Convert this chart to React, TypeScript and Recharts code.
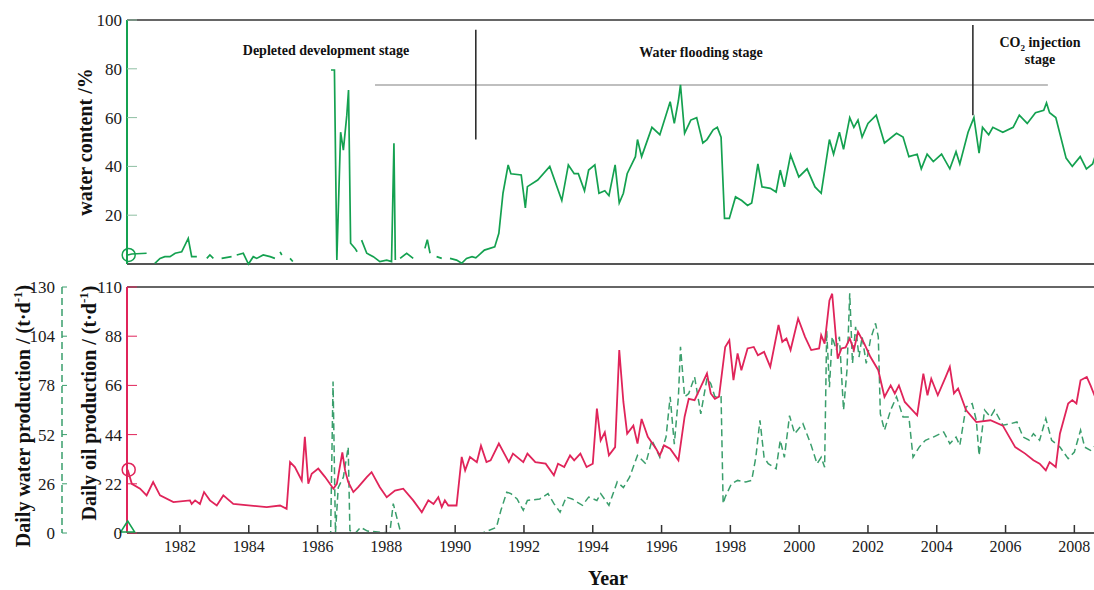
import React from "react";
import { LineChart, Line, XAxis, YAxis, ReferenceLine } from "recharts";

// x positions are decimal years
const X_MIN = 1980.46;
const X_MAX = 2008.6;
const yearTicks = [1982, 1984, 1986, 1988, 1990, 1992, 1994, 1996, 1998, 2000, 2002, 2004, 2006, 2008];
const waterCutTicks = [0, 20, 40, 60, 80, 100];
const oilTicks = [0, 22, 44, 66, 88, 110];
const waterProdTicks = [0, 26, 52, 78, 104, 130];

// water content /% (null = no record)
const waterCutYears = [
  1980.48, 1980.6, 1981.03, 1981.12, 1981.27, 1981.42, 1981.56, 1981.71, 1981.86, 1982.05, 1982.24, 1982.34,
  1982.49, 1982.62, 1982.78, 1982.87, 1982.97, 1983.08, 1983.21, 1983.5, 1983.58, 1983.65, 1983.84, 1983.99,
  1984.13, 1984.23, 1984.42, 1984.62, 1984.76, 1984.84, 1984.91, 1984.96, 1985.08, 1985.2, 1985.28, 1985.6,
  1986.39, 1986.49, 1986.56, 1986.67, 1986.75, 1986.85, 1986.9, 1986.96, 1987.09, 1987.15, 1987.22, 1987.28,
  1987.43, 1987.62, 1987.81, 1988.01, 1988.15, 1988.22, 1988.26, 1988.33, 1988.4, 1988.59, 1988.78, 1988.95,
  1989.12, 1989.19, 1989.27, 1989.36, 1989.46, 1989.61, 1989.72, 1989.85, 1990.04, 1990.19, 1990.33, 1990.49,
  1990.6, 1990.72, 1990.85, 1991.15, 1991.27, 1991.39, 1991.54, 1991.62, 1991.92, 1992.04, 1992.1, 1992.4,
  1992.75, 1993.1, 1993.29, 1993.46, 1993.58, 1993.76, 1993.88, 1994.06, 1994.18, 1994.35, 1994.47, 1994.65,
  1994.77, 1994.89, 1995.0, 1995.24, 1995.3, 1995.42, 1995.72, 1995.95, 1996.25, 1996.37, 1996.49, 1996.55,
  1996.67, 1996.85, 1997.02, 1997.2, 1997.32, 1997.5, 1997.62, 1997.73, 1997.83, 1997.97, 1998.15, 1998.33,
  1998.5, 1998.62, 1998.68, 1998.8, 1998.92, 1999.16, 1999.33, 1999.45, 1999.57, 1999.75, 1999.99, 2000.23,
  2000.46, 2000.64, 2000.76, 2000.88, 2001.0, 2001.17, 2001.29, 2001.47, 2001.59, 2001.71, 2001.83, 2002.0,
  2002.24, 2002.48, 2002.83, 2003.02, 2003.19, 2003.43, 2003.55, 2003.72, 2003.9, 2004.14, 2004.38, 2004.56,
  2004.67, 2004.91, 2005.08, 2005.23, 2005.33, 2005.51, 2005.63, 2005.92, 2006.22, 2006.4, 2006.63, 2006.87,
  2007.11, 2007.19, 2007.28, 2007.46, 2007.76, 2007.94, 2008.17, 2008.35, 2008.53, 2008.6,
];
const waterCutValues = [
  3.7, 4.1, 4.4, null, 0.3, 2.3, 3, 3, 4.4, 5, 10.5, 3,
  3, null, 2.3, 3.7, 2.3, null, 2.3, 3, null, 3.7, 4.4, 0,
  3, 2.3, 3.7, 3, 2.3, null, 5, 3.7, null, 2.3, 1, null,
  79.5, 79.5, 1.6, 54, 46.7, 61, 71.3, 8.5, 6.4, 5, null, 9.8,
  4.4, 3, 1, 1.6, 1, 49.5, 1.6, null, 2.3, 4.4, 2.3, null,
  6.4, 10, 4.4, null, 3, 2.3, null, 2.3, 1.6, 0.3, 2.3, 3,
  2.5, 4, 5.7, 7, 12.6, 29, 40.6, 37, 36.5, 23, 31.7, 34.4,
  40, 26, 40.6, 37, 37, 30, 38.5, 40.6, 29, 30, 28, 40.6,
  25, 29, 37, 44, 51, 44, 56, 53, 66.5, 57.6, 67, 73.4,
  53.6, 59, 60, 49.6, 51, 55, 56, 52, 18.7, 18.7, 27.5, 26,
  24, 25, 30, 41, 31.6, 31, 29.5, 38.5, 31.6, 44.7, 35.7, 39,
  31.6, 29, 40, 51, 45, 54, 47, 60, 56, 59, 52, 57.6,
  61, 49.6, 53.6, 52, 44, 45, 39, 45, 42, 45, 39, 46,
  41, 54, 60, 45.4, 56, 53, 56, 54, 56, 61, 57.6, 62,
  63, 66, 62, 60, 43.4, 40, 44, 39, 41, 44,
];

// daily oil production / (t·d-1)
const oilYears = [
  1980.48, 1980.6, 1980.84, 1981.03, 1981.22, 1981.42, 1981.81, 1982.29, 1982.34, 1982.44, 1982.58, 1982.7,
  1982.87, 1983.07, 1983.26, 1983.55, 1984.52, 1984.91, 1985.1, 1985.2, 1985.34, 1985.54, 1985.63, 1985.73,
  1985.83, 1986.02, 1986.22, 1986.46, 1986.56, 1986.72, 1986.8, 1986.89, 1987.04, 1987.18, 1987.43, 1987.57,
  1987.81, 1988.01, 1988.25, 1988.49, 1988.78, 1989.03, 1989.22, 1989.37, 1989.51, 1989.61, 1989.7, 1989.8,
  1990.04, 1990.19, 1990.29, 1990.43, 1990.63, 1990.75, 1990.91, 1991.03, 1991.27, 1991.56, 1991.68, 1991.98,
  1992.1, 1992.33, 1992.63, 1992.87, 1992.99, 1993.17, 1993.34, 1993.46, 1993.64, 1993.82, 1994.0, 1994.12,
  1994.23, 1994.35, 1994.47, 1994.65, 1994.77, 1994.89, 1995.0, 1995.18, 1995.3, 1995.42, 1995.6, 1995.84,
  1995.95, 1996.07, 1996.25, 1996.49, 1996.67, 1996.79, 1996.96, 1997.14, 1997.32, 1997.43, 1997.55, 1997.67,
  1997.85, 1997.97, 1998.09, 1998.21, 1998.32, 1998.5, 1998.68, 1998.8, 1998.98, 1999.16, 1999.4, 1999.51,
  1999.63, 1999.75, 1999.97, 2000.17, 2000.35, 2000.58, 2000.64, 2000.74, 2000.88, 2000.96, 2001.12, 2001.23,
  2001.35, 2001.47, 2001.59, 2001.71, 2001.89, 2002.07, 2002.3, 2002.48, 2002.66, 2002.78, 2002.9, 2003.07,
  2003.43, 2003.61, 2003.73, 2003.84, 2004.03, 2004.26, 2004.38, 2004.5, 2004.62, 2004.85, 2005.15, 2005.56,
  2005.92, 2006.28, 2006.57, 2006.81, 2006.99, 2007.17, 2007.28, 2007.46, 2007.58, 2007.82, 2007.94, 2008.06,
  2008.18, 2008.36, 2008.47, 2008.6,
];
const oilValues = [
  28.3, 22, 19.8, 16.8, 22.8, 16.8, 13.8, 14.6, 13, 14.6, 13, 18.3,
  14.6, 12.3, 16.8, 13, 11.6, 12.3, 10.8, 31.7, 29.5, 23.5, 43, 22,
  26.5, 28.8, 25, 19.8, 22, 36, 28, 22.8, 18.3, 20.5, 25, 27.2,
  20.5, 16, 19, 19.8, 14.6, 9.3, 14.6, 13, 16, 11.6, 14.6, 12.3,
  12.3, 34, 28, 34, 31.7, 39, 31.7, 32.5, 40, 31.7, 35.5, 31.7,
  35.5, 31.7, 31, 25.8, 31, 29.5, 34.7, 32.5, 35.5, 29.5, 31, 55.6,
  41.4, 45, 34.7, 38.4, 81.8, 58.6, 44.4, 48, 40, 51, 43, 37.7,
  34.7, 39.2, 37.7, 32.5, 52, 60, 59.4, 65.3, 71.3, 62.4, 60, 61,
  83.2, 86.2, 68.4, 80.3, 72.8, 82.5, 83.2, 79.5, 81, 74.3, 93, 85.5,
  87, 81.8, 95.9, 87.7, 81.8, 82.5, 88.5, 84.7, 104, 107, 78, 82.5,
  83, 87, 81.8, 90, 84.8, 78.8, 72.8, 60.8, 66, 62.4, 66, 58.6,
  52.6, 71.3, 61.6, 69, 61.6, 69.8, 74.3, 62.4, 64.6, 55, 49.6, 50.4,
  48, 38.4, 35.5, 32.5, 31, 28, 31.7, 29.5, 44.4, 57.9, 59.4, 57.9,
  68.3, 69.8, 66, 61,
];

// daily water production / (t·d-1)
const waterYears = [
  1980.48, 1986.38, 1986.45, 1986.52, 1986.6, 1986.75, 1986.89, 1986.94, 1987.1, 1987.25, 1987.45, 1988.1,
  1988.2, 1988.35, 1988.42, 1990.8, 1991.2, 1991.33, 1991.5, 1991.62, 1991.8, 1991.98, 1992.1, 1992.46,
  1992.7, 1992.87, 1993.05, 1993.23, 1993.4, 1993.7, 1993.88, 1994.12, 1994.23, 1994.47, 1994.71, 1994.89,
  1995.07, 1995.3, 1995.54, 1995.72, 1995.95, 1996.13, 1996.25, 1996.37, 1996.49, 1996.55, 1996.67, 1996.79,
  1996.96, 1997.14, 1997.32, 1997.43, 1997.55, 1997.73, 1997.79, 1997.85, 1998.03, 1998.21, 1998.45, 1998.62,
  1998.74, 1998.86, 1998.98, 1999.1, 1999.33, 1999.45, 1999.57, 1999.72, 1999.87, 2000.11, 2000.35, 2000.52,
  2000.64, 2000.74, 2000.8, 2000.88, 2000.96, 2001.08, 2001.17, 2001.29, 2001.39, 2001.47, 2001.55, 2001.64,
  2001.74, 2001.83, 2001.95, 2002.07, 2002.22, 2002.3, 2002.36, 2002.48, 2002.66, 2002.83, 2003.02, 2003.19,
  2003.31, 2003.49, 2003.67, 2003.9, 2004.2, 2004.38, 2004.56, 2004.67, 2004.85, 2005.03, 2005.15, 2005.23,
  2005.39, 2005.56, 2005.68, 2005.92, 2006.15, 2006.33, 2006.51, 2006.69, 2006.81, 2006.99, 2007.17, 2007.34,
  2007.58, 2007.82, 2008.0, 2008.18, 2008.3, 2008.47, 2008.6,
];
const waterValues = [
  0, 0, 80, 0, 24, 29.5, 45.4, 1.3, 0, 3, 1, 0,
  15.5, 4.9, 0, 0, 3, 12, 21.6, 20.8, 18, 12, 17.2, 18,
  20.8, 15.5, 11, 19, 18, 14.6, 19, 17.2, 20.8, 14.6, 27, 24,
  29.5, 41, 36.6, 49, 40, 50.7, 72, 47, 72, 98.4, 72, 73.7,
  82.5, 63, 81.7, 79, 72, 72, 15.5, 19, 26, 27.8, 27, 27.8,
  40, 59.6, 40, 36.6, 34, 49, 40, 62, 52.5, 57.8, 46.3, 36.6,
  40, 34.8, 107, 77, 103.7, 96.7, 103.7, 64.9, 86, 126.7, 89.6, 109,
  93, 103.7, 89.6, 102, 110.8, 103.7, 63, 54.3, 65, 72, 61.3, 61.3,
  40, 45.4, 49, 50.7, 53.4, 47.2, 50.7, 46.3, 66.6, 68.4, 59.6, 41,
  65, 61.3, 65, 57, 57.8, 58.7, 50.7, 49, 52.5, 49, 60.5, 49,
  45.4, 39.3, 42.8, 54.3, 45.4, 43.7, 46,
];

// stage annotations (years / water content %)
const stageDivider1 = { year: 1990.6, from: 51, to: 96 };
const stageDivider2 = { year: 2005.05, from: 61, to: 98 };
const stageBar = { value: 73.4, from: 1987.67, to: 2007.23 };

const GREEN = "#14a150";
const RED = "#e0245a";
const DASH_GREEN = "#3a9e6c";
const SERIF = "'Liberation Serif', 'DejaVu Serif', serif";

const zip = (xs: number[], vs: (number | null)[]) => xs.map((x, i) => ({ x, v: vs[i] }));
const waterCutData = zip(waterCutYears, waterCutValues);
const oilData = zip(oilYears, oilValues);
const waterData = zip(waterYears, waterValues);

const startCircle = (color: string) => (p: any) =>
  p.index === 0 ? (
    <circle key={`d${p.index}`} cx={p.cx + 1} cy={p.cy} r={6.5} fill="none" stroke={color} strokeWidth={1.5} />
  ) : (
    <g key={`d${p.index}`} />
  );

const startTriangle = (p: any) =>
  p.index === 0 ? (
    <path
      key={`d${p.index}`}
      d={`M${p.cx - 7},${p.cy - 1} L${p.cx + 7},${p.cy - 1} L${p.cx},${p.cy - 12} Z`}
      fill="none"
      stroke={GREEN}
      strokeWidth={1.5}
    />
  ) : (
    <g key={`d${p.index}`} />
  );

const tickFont = { fontFamily: "Liberation Serif", fontSize: 17, fill: "#1a1a1a" };

function VTitle({ text, x, y, size = 20 }: { text: React.ReactNode; x: number; y: number; size?: number }) {
  return (
    <div
      style={{
        position: "absolute",
        left: x,
        top: y,
        transform: "translate(-50%, -50%) rotate(-90deg)",
        whiteSpace: "nowrap",
        fontFamily: SERIF,
        fontWeight: "bold",
        fontSize: size,
        lineHeight: 1,
        color: "#111",
      }}
    >
      {text}
    </div>
  );
}

function Note({ x, y, children }: { x: number; y: number; children: React.ReactNode }) {
  return (
    <div
      style={{
        position: "absolute",
        left: x,
        top: y,
        transform: "translate(-50%, -50%)",
        whiteSpace: "nowrap",
        textAlign: "center",
        fontFamily: SERIF,
        fontWeight: "bold",
        fontSize: 14,
        lineHeight: "17px",
        color: "#111",
      }}
    >
      {children}
    </div>
  );
}

const unit = (
  <>
    (t·d<sup style={{ fontSize: "0.65em", lineHeight: 0 }}>-1</sup>)
  </>
);

export default function App() {
  return (
    <div
      className="chart-root"
      style={{
        position: "absolute",
        left: 0,
        top: 0,
        width: 1094,
        height: 590,
        overflow: "hidden",
        background: "#fff",
        fontFamily: SERIF,
      }}
    >
      <style>{`.chart-root svg text, .chart-root svg tspan { font-family: 'Liberation Serif', 'DejaVu Serif', serif !important; }`}</style>

      {/* water content */}
      <div style={{ position: "absolute", left: 0, top: 0 }}>
        <LineChart width={1100} height={270} margin={{ top: 20, right: 5, left: 0, bottom: 6 }}>
          <XAxis type="number" dataKey="x" domain={[X_MIN, X_MAX]} hide />
          <YAxis
            type="number"
            width={127}
            domain={[0, 100]}
            ticks={waterCutTicks}
            axisLine={{ stroke: GREEN, strokeWidth: 2 }}
            tickLine={{ stroke: "#8fbfa3" }}
            tickSize={-10}
            tickMargin={15}
            tick={tickFont}
          />
          <ReferenceLine y={100} stroke="#666" strokeWidth={2} />
          <ReferenceLine y={0} stroke="#555" strokeWidth={2} />
          <ReferenceLine
            segment={[{ x: stageBar.from, y: stageBar.value }, { x: stageBar.to, y: stageBar.value }]}
            stroke="#aaa"
            strokeWidth={1.5}
          />
          <ReferenceLine
            segment={[{ x: stageDivider1.year, y: stageDivider1.from }, { x: stageDivider1.year, y: stageDivider1.to }]}
            stroke="#222"
            strokeWidth={1.5}
          />
          <ReferenceLine
            segment={[{ x: stageDivider2.year, y: stageDivider2.from }, { x: stageDivider2.year, y: stageDivider2.to }]}
            stroke="#222"
            strokeWidth={1.5}
          />
          <Line
            data={waterCutData}
            dataKey="v"
            type="linear"
            stroke={GREEN}
            strokeWidth={1.7}
            dot={startCircle(GREEN)}
            activeDot={false}
            connectNulls={false}
            isAnimationActive={false}
          />
        </LineChart>
      </div>

      {/* oil & water production */}
      <div style={{ position: "absolute", left: 0, top: 267 }}>
        <LineChart width={1100} height={296} margin={{ top: 20, right: 5, left: 0, bottom: 0 }}>
          <XAxis
            type="number"
            dataKey="x"
            domain={[X_MIN, X_MAX]}
            ticks={yearTicks}
            height={30}
            axisLine={{ stroke: "#555", strokeWidth: 2 }}
            tickLine={{ stroke: "#333", strokeWidth: 1.5 }}
            tickSize={-8}
            tickMargin={16}
            tick={{ ...tickFont, fontSize: 16 }}
          />
          <YAxis
            yAxisId="oil"
            type="number"
            width={65}
            domain={[0, 110]}
            ticks={oilTicks}
            axisLine={{ stroke: RED, strokeWidth: 2 }}
            tickLine={{ stroke: RED }}
            tickSize={-10}
            tickMargin={15}
            tick={tickFont}
          />
          <YAxis
            yAxisId="water"
            type="number"
            width={62}
            domain={[0, 130]}
            ticks={waterProdTicks}
            axisLine={{ stroke: DASH_GREEN, strokeWidth: 1.5, strokeDasharray: "7 4" }}
            tickLine={{ stroke: DASH_GREEN }}
            tickSize={-5}
            tickMargin={12}
            tick={tickFont}
          />
          <ReferenceLine yAxisId="oil" y={110} stroke="#666" strokeWidth={2} />
          <Line
            yAxisId="water"
            data={waterData}
            dataKey="v"
            type="linear"
            stroke={DASH_GREEN}
            strokeWidth={1.5}
            strokeDasharray="7 4"
            dot={startTriangle}
            activeDot={false}
            isAnimationActive={false}
          />
          <Line
            yAxisId="oil"
            data={oilData}
            dataKey="v"
            type="linear"
            stroke={RED}
            strokeWidth={1.8}
            dot={startCircle(RED)}
            activeDot={false}
            isAnimationActive={false}
          />
        </LineChart>
      </div>

      <VTitle text="water content /%" x={85} y={142} size={20} />
      <VTitle text={<>Daily oil production / {unit}</>} x={89} y={403} size={20} />
      <VTitle text={<>Daily water production / {unit}</>} x={23} y={416} size={20} />

      <Note x={326} y={50}>Depleted development stage</Note>
      <Note x={701} y={52}>Water flooding stage</Note>
      <Note x={1040} y={51}>
        CO<sub style={{ fontSize: "0.65em", lineHeight: 0 }}>2</sub> injection
        <br />
        stage
      </Note>

      <div
        style={{
          position: "absolute",
          left: 608,
          top: 578,
          transform: "translate(-50%, -50%)",
          fontFamily: SERIF,
          fontWeight: "bold",
          fontSize: 20,
          color: "#111",
        }}
      >
        Year
      </div>
    </div>
  );
}
